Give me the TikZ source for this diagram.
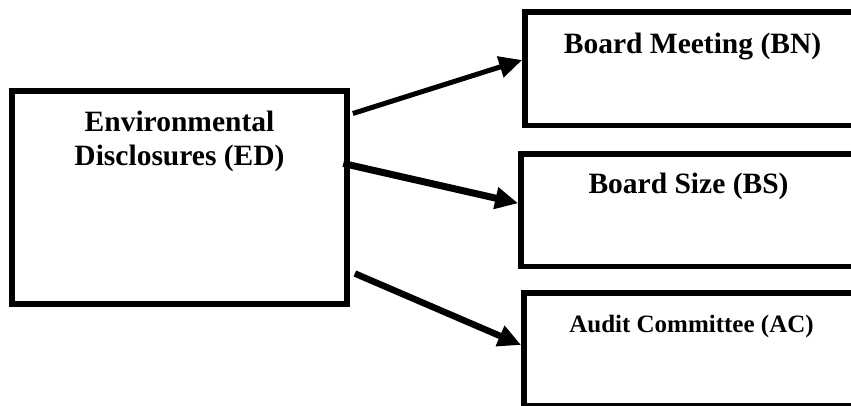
\documentclass[tikz,border=0pt]{standalone}
\usepackage{fontspec}
\setmainfont{Liberation Serif}
\usetikzlibrary{arrows.meta}

\begin{document}
\begin{tikzpicture}[x=1pt,y=1pt,
    box/.style={draw,line width=5.7pt,minimum width=335pt,inner sep=0},
    lbl/.style={anchor=base,inner sep=0,align=center,font=\bfseries\fontsize{29.5}{34}\selectfont},
    arr/.style={-{Triangle[length=23pt,width=21pt]}}]
        \useasboundingbox (0,0) rectangle (851,405);
        \clip (0,0) rectangle (851,405);
        \node[box,minimum height=213pt] (ed) at (179.5,207.5) {};
        \node[box,minimum height=113.5pt] (bn) at (692.5,336.25) {};
        \node[box,minimum height=112.5pt] (bs) at (688.5,194.75) {};
        \node[box,minimum height=113pt] (ac) at (691.5,55.5) {};
        \node[lbl] (edlbl) at ([yshift=-77.5pt]ed.north) {Environmental\\Disclosures (ED)};
        \node[lbl] (bnlbl) at ([yshift=-44pt]bn.north) {Board Meeting (BN)};
        \node[lbl] (bslbl) at ([yshift=-42pt]bs.north) {Board Size (BS)};
        \node[lbl,font=\bfseries\fontsize{25}{30}\selectfont] (aclbl) at ([yshift=-42.5pt]ac.north) {Audit Committee (AC)};
        \draw[arr,line width=5pt] ([xshift=3pt,yshift=84pt]ed.east) -- ([yshift=8.75pt]bn.west);
        \draw[arr,line width=7pt] ([xshift=-6.5pt,yshift=34pt]ed.east) -- ([yshift=7pt]bs.west);
        \draw[arr,line width=6.5pt] ([xshift=5pt,yshift=-76pt]ed.east) -- ([yshift=4.5pt]ac.west);
      \end{tikzpicture}
\end{document}
